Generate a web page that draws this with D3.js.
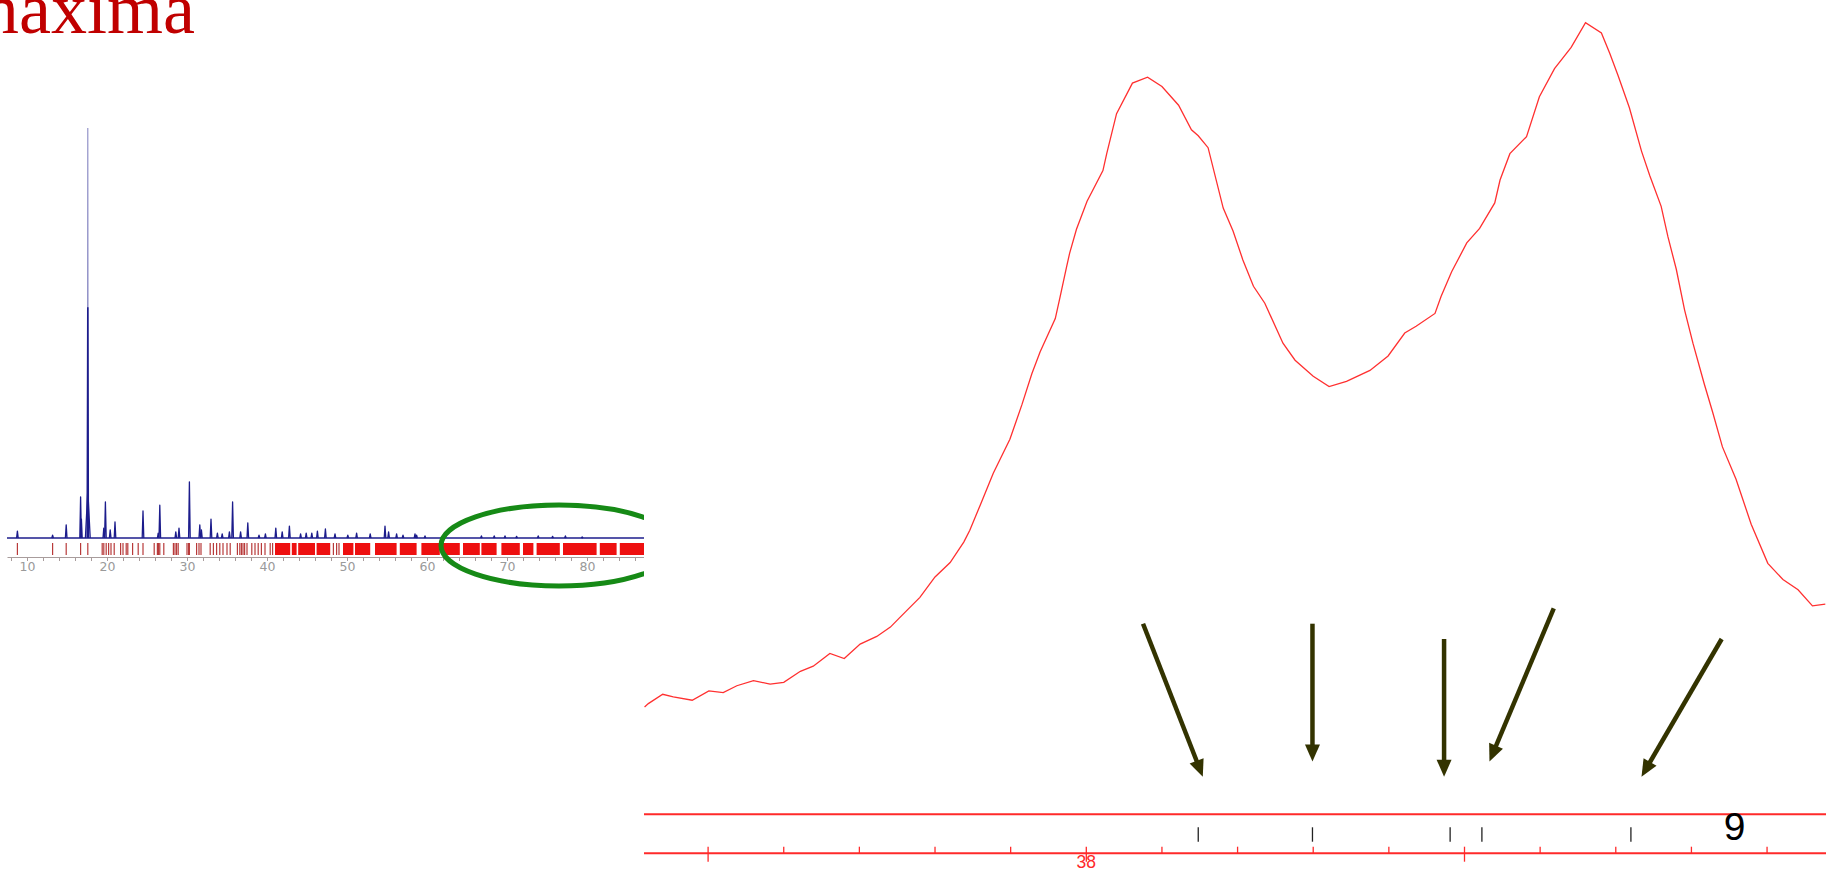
<!DOCTYPE html>
<html>
<head>
<meta charset="utf-8">
<script src="https://cdn.jsdelivr.net/npm/d3@7"></script>
<style>
  html, body { margin: 0; padding: 0; background: #fff; overflow: hidden; }
  svg { display: block; }
</style>
</head>
<body>
<svg id="chart" width="1826" height="870"></svg>
<script>
// ---------- Overview powder pattern (2θ in degrees, relative intensity) ----------
const overviewPeaks = [
  [8.8, 1.7], [13.2, 0.7], [14.9, 3.2], [16.7, 10.0], [16.8, 4.6],
  [19.6, 2.4], [19.8, 8.8], [20.4, 2.0], [21.0, 3.9], [24.5, 6.6],
  [26.4, 1.2], [26.6, 8.0], [28.6, 1.5], [29.0, 2.4], [30.3, 13.7],
  [31.6, 3.2], [31.8, 2.0], [33.0, 4.6], [33.8, 1.2], [34.4, 1.0],
  [35.3, 1.5], [35.7, 8.8], [36.7, 1.5], [37.6, 3.7], [39.0, 0.7],
  [39.8, 1.0], [41.1, 2.4], [41.9, 1.5], [42.8, 2.9], [44.2, 1.0],
  [44.9, 1.2], [45.6, 1.2], [46.3, 1.7], [47.3, 2.2], [48.5, 1.0],
  [50.1, 0.7], [51.2, 1.2], [52.9, 1.0], [54.75, 2.9], [55.2, 1.5],
  [56.2, 1.0], [57.0, 0.7], [58.5, 1.0], [58.7, 0.7], [59.75, 0.5],
  [66.8, 0.5], [68.4, 0.5], [69.75, 0.5], [71.2, 0.4], [73.9, 0.5],
  [75.7, 0.4], [77.3, 0.5], [79.4, 0.25]
];
// strongest reflection: full height (light trace), dark trace height, broad foot
const mainPeak = { pos: 17.6, full: 100, dark: 56.3, foot: 11.7 };
const overviewRange = [7.5, 87.2];

// calculated reflection positions, isolated ones
const reflectionTicks = [
  8.8, 13.2, 14.9, 16.7, 17.6, 19.4, 19.6, 19.9, 20.2, 20.5, 20.9, 21.7, 22.0,
  22.4, 22.6, 23.2, 23.9, 24.5, 25.9, 26.3, 26.45, 26.6, 27.1, 28.3, 28.5, 28.7,
  28.9, 30.0, 30.2, 30.3, 31.2, 31.5, 31.75, 32.9, 33.3, 33.7, 34.1, 34.5, 35.0,
  35.4, 36.3, 36.6, 36.8, 37.0, 37.2, 37.5, 38.1, 38.5, 38.9, 39.3, 39.75, 40.4,
  40.7, 48.3, 48.7, 49.0
];
// high-angle reflections so dense they merge into bands [from, to]
const reflectionBands = [
  [41.0, 42.9], [43.1, 43.7], [43.9, 46.0], [46.2, 47.9], [49.5, 50.8],
  [51.0, 52.9], [53.5, 56.2], [56.6, 58.7], [59.3, 61.6], [62.0, 64.1],
  [64.5, 66.6], [66.8, 68.7], [69.3, 71.6], [72.0, 73.3], [73.7, 76.6],
  [77.0, 81.2], [81.6, 83.7], [84.1, 87.3]
];
const overviewTickValues = d3.range(8, 88, 2);

// ---------- Detail scan around 38° 2θ (degrees, counts) ----------
const scanTheta = [
  37.416, 37.421, 37.440, 37.454, 37.479, 37.501, 37.520, 37.538, 37.560, 37.582,
  37.600, 37.622, 37.639, 37.661, 37.680, 37.701, 37.723, 37.741, 37.752, 37.780,
  37.800, 37.820, 37.838, 37.846, 37.860, 37.877, 37.899, 37.915, 37.928, 37.939,
  37.959, 37.965, 37.974, 37.978, 37.987, 38.001, 38.022, 38.027, 38.040, 38.061,
  38.081, 38.100, 38.122, 38.139, 38.148, 38.161, 38.181, 38.194, 38.207, 38.221,
  38.236, 38.260, 38.276, 38.300, 38.321, 38.344, 38.375, 38.399, 38.421, 38.436,
  38.461, 38.469, 38.483, 38.503, 38.520, 38.540, 38.547, 38.560, 38.582, 38.599,
  38.619, 38.641, 38.660, 38.681, 38.692, 38.703, 38.718, 38.734, 38.745, 38.760,
  38.769, 38.780, 38.791, 38.802, 38.817, 38.828, 38.841, 38.859, 38.879, 38.901,
  38.921, 38.941, 38.960, 38.977
];
const scanCounts = [
  180, 184, 195, 192, 188, 199, 197, 205, 211, 207,
  209, 222, 228, 243, 237, 254, 263, 274, 284, 309,
  333, 350, 374, 388, 418, 455, 495, 536, 572, 598,
  637, 661, 698, 714, 742, 775, 811, 831, 878, 914,
  921, 910, 888, 859, 852, 838, 767, 740, 706, 675,
  655, 608, 588, 569, 557, 563, 576, 593, 620, 628,
  643, 663, 692, 726, 743, 773, 800, 831, 851, 898,
  931, 956, 985, 973, 949, 923, 885, 834, 805, 769,
  733, 695, 647, 608, 560, 527, 486, 448, 395, 349,
  330, 318, 299, 301
];
// reflection positions inside the detail window
const detailReflections = [38.148, 38.299, 38.481, 38.523, 38.720];
// arrows: tail -> tip, in (2θ, counts)
const arrows = [
  { from: [38.075, 278], to: [38.154, 98] },
  { from: [38.299, 278], to: [38.299, 116] },
  { from: [38.473, 260], to: [38.473, 98] },
  { from: [38.618, 296], to: [38.533, 116] },
  { from: [38.840, 260], to: [38.734, 98] }
];
const detailMinorTicks = d3.range(37.3, 39.05, 0.1).map(v => +v.toFixed(1));
const detailMajorTicks = [37.5, 38.0, 38.5];
const detailLabels = [38];
const reflectionCount = "9";

// ---------- drawing ----------
const svg = d3.select("#chart");
const W = 1826, H = 870;
const splitX = 644;

const defs = svg.append("defs");
defs.append("clipPath").attr("id", "clipLeft")
  .append("rect").attr("x", 0).attr("y", 0).attr("width", splitX).attr("height", H);
defs.append("clipPath").attr("id", "clipRight")
  .append("rect").attr("x", splitX).attr("y", 0).attr("width", W - splitX).attr("height", H);

svg.append("rect").attr("width", W).attr("height", H).attr("fill", "#fff");

// heading
svg.append("text")
  .attr("x", -37).attr("y", 33)
  .attr("font-family", "'Liberation Serif', 'Times New Roman', serif")
  .attr("font-size", 72)
  .attr("fill", "#c00000")
  .text("maxima");

// ----- overview panel -----
const left = svg.append("g").attr("clip-path", "url(#clipLeft)");
const xO = d3.scaleLinear().domain(overviewRange).range([7, 644.6]);
const yO = d3.scaleLinear().domain([0, 100]).range([538, 128]);
const bandTop = 543, bandBottom = 555, axisY = 557;

// reflection bands and ticks
left.append("g").selectAll("rect").data(reflectionBands).join("rect")
  .attr("x", d => xO(d[0])).attr("width", d => xO(d[1]) - xO(d[0]))
  .attr("y", bandTop).attr("height", bandBottom - bandTop)
  .attr("fill", "#ee1010");
left.append("g").selectAll("line").data(reflectionTicks).join("line")
  .attr("x1", d => xO(d)).attr("x2", d => xO(d))
  .attr("y1", bandTop).attr("y2", bandBottom)
  .attr("stroke", "#b83a3a").attr("stroke-width", 1.2);

// axis
const axO = left.append("g").attr("transform", `translate(0,${axisY})`)
  .call(d3.axisBottom(xO).tickValues(overviewTickValues)
    .tickFormat(d => d % 10 === 0 ? d : "").tickSize(4).tickSizeOuter(0));
axO.select(".domain").attr("stroke", "#a89c9c").attr("stroke-width", 1.2);
axO.selectAll(".tick line").attr("stroke", "#a89c9c");
axO.selectAll(".tick text")
  .attr("fill", "#9a9a9a").attr("font-size", 12.5)
  .attr("font-family", "'DejaVu Sans', sans-serif").attr("dy", "0.55em");

// pattern: baseline, then each reflection as a sharp profile
const blue = "#1c1c8c";
left.append("line")
  .attr("x1", xO(overviewRange[0])).attr("x2", xO(overviewRange[1]))
  .attr("y1", yO(0)).attr("y2", yO(0))
  .attr("stroke", blue).attr("stroke-width", 1.3);
const spike = (pos, h, hw) => d3.line()([
  [xO(pos - hw), yO(0)], [xO(pos), yO(h)], [xO(pos + hw), yO(0)]
]);
left.append("path").attr("d", spike(mainPeak.pos, mainPeak.full, 0.05))
  .attr("fill", "none").attr("stroke", "#8a8ac4").attr("stroke-width", 1.1);
left.append("path").attr("d", spike(mainPeak.pos, mainPeak.foot, 0.3))
  .attr("fill", "none").attr("stroke", blue).attr("stroke-width", 1.3);
left.append("path").attr("d", spike(mainPeak.pos, mainPeak.dark, 0.07))
  .attr("fill", "none").attr("stroke", blue).attr("stroke-width", 1.6);
left.append("g").selectAll("path").data(overviewPeaks).join("path")
  .attr("d", d => spike(d[0], d[1], 0.1))
  .attr("fill", "none").attr("stroke", blue).attr("stroke-width", 1.3)
  .attr("stroke-linejoin", "round");

// highlighted region
left.append("ellipse")
  .attr("cx", 559).attr("cy", 545.5).attr("rx", 118).attr("ry", 40.5)
  .attr("fill", "none").attr("stroke", "#168a16").attr("stroke-width", 5);

// ----- detail panel -----
const right = svg.append("g").attr("clip-path", "url(#clipRight)");
const xR = d3.scaleLinear().domain([37.5, 38.5]).range([708.1, 1464.5]);
const yR = d3.scaleLinear().domain([0, 1000]).range([860, 10]);
const red = "#ff2a2a";

right.append("path")
  .attr("d", d3.line().x(d => xR(d[0])).y(d => yR(d[1]))(d3.zip(scanTheta, scanCounts)))
  .attr("fill", "none").attr("stroke", "#ff3030").attr("stroke-width", 1.3)
  .attr("stroke-linejoin", "miter");

// reference lines
const upperY = 814.3, lowerY = 853.3;
[upperY, lowerY].forEach(y => right.append("line")
  .attr("x1", splitX).attr("x2", W).attr("y1", y).attr("y2", y)
  .attr("stroke", red).attr("stroke-width", 2));

// reflection markers
right.append("g").selectAll("line").data(detailReflections).join("line")
  .attr("x1", d => xR(d)).attr("x2", d => xR(d))
  .attr("y1", 827.3).attr("y2", 841.7)
  .attr("stroke", "#222").attr("stroke-width", 1.3);

// 2θ ticks
right.append("g").selectAll("line").data(detailMinorTicks).join("line")
  .attr("x1", d => xR(d)).attr("x2", d => xR(d))
  .attr("y1", 846.7)
  .attr("y2", d => detailMajorTicks.some(m => Math.abs(m - d) < 1e-6) ? 861.7 : lowerY)
  .attr("stroke", red).attr("stroke-width", 1.3);
right.append("g").selectAll("text").data(detailLabels).join("text")
  .attr("x", d => xR(d)).attr("y", 867.5)
  .attr("text-anchor", "middle")
  .attr("font-family", "'Liberation Sans', Arial, sans-serif")
  .attr("font-size", 17.5).attr("fill", red)
  .text(d => d);

right.append("text")
  .attr("x", 1734.5).attr("y", 840)
  .attr("text-anchor", "middle")
  .attr("font-family", "'Liberation Sans', Arial, sans-serif")
  .attr("font-size", 39).attr("fill", "#000")
  .text(reflectionCount);

// arrows pointing at the reflections
const arrowColor = "#333300";
const headLen = 17, headHalf = 7.5;
arrows.forEach(a => {
  const x1 = xR(a.from[0]), y1 = yR(a.from[1]);
  const x2 = xR(a.to[0]), y2 = yR(a.to[1]);
  const len = Math.hypot(x2 - x1, y2 - y1);
  const ux = (x2 - x1) / len, uy = (y2 - y1) / len;
  const bx = x2 - ux * headLen, by = y2 - uy * headLen;
  right.append("line")
    .attr("x1", x1).attr("y1", y1).attr("x2", bx + ux * 2).attr("y2", by + uy * 2)
    .attr("stroke", arrowColor).attr("stroke-width", 4.5);
  right.append("path")
    .attr("d", d3.line()([
      [x2, y2],
      [bx - uy * headHalf, by + ux * headHalf],
      [bx + uy * headHalf, by - ux * headHalf]
    ]) + "Z")
    .attr("fill", arrowColor);
});
</script>
</body>
</html>
